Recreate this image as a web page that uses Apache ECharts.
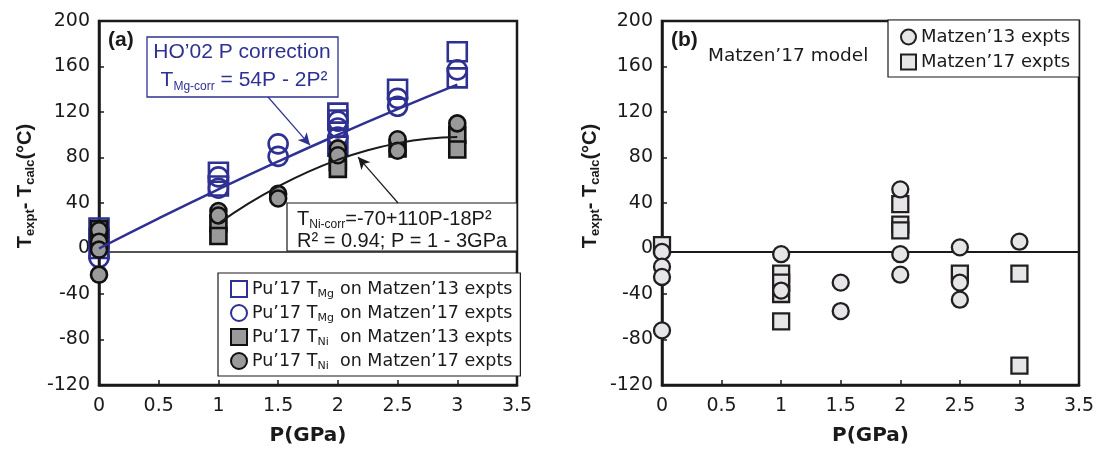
<!DOCTYPE html>
<html><head><meta charset="utf-8">
<script src="https://cdn.jsdelivr.net/npm/echarts@6/dist/echarts.min.js"></script>
<style>html,body{margin:0;padding:0;background:#fff}#c{width:1107px;height:455px}</style>
</head><body><div id="c"></div>
<script>
// ---------- data ----------
// x ticks / y ticks
const xTicks = [0, 0.5, 1, 1.5, 2, 2.5, 3, 3.5];
const yTicks = [-120, -80, -40, 0, 40, 80, 120, 160, 200];

// Panel (a)
const mgM13P = [0, 0, 0, 1, 1, 2, 2, 2, 2.5, 3, 3];
const mgM13T = [18, 9, 0, 67, 55, 119, 113, 90, 140, 173, 150];
const mgM17P = [0, 0, 1, 1, 1.5, 1.5, 2, 2, 2, 2.5, 2.5, 3];
const mgM17T = [2, -8, 63, 53, 92, 81, 112, 106, 98, 132, 125, 157];
const niM13P = [0, 0, 1, 1, 2, 2, 2.5, 3, 3];
const niM13T = [17, 8, 22, 11, 76, 70, 88, 100, 87];
const niM17P = [0, 0, 0, 0, 1, 1, 1.5, 1.5, 2, 2, 2.5, 2.5, 3];
const niM17T = [16, 6, -1, -23, 33, 29, 48, 44, 88, 82, 96, 86, 110];
// fitted curves as drawn
const hoFitP = [0, 0.5, 1, 1.5, 2, 2.5, 3];
const hoFitT = [0, 26.5, 52, 76.5, 100, 122.5, 144];
const niFitP = [1, 1.25, 1.5, 1.75, 2, 2.25, 2.5, 2.75, 3];
const niFitT = [22, 39.4, 54.5, 67.4, 78, 86.4, 92.5, 96.4, 98];

// Panel (b)
const m13P = [0, 0, 0, 0, 1, 1, 1.5, 1.5, 2, 2, 2, 2.5, 2.5, 2.5, 3];
const m13T = [-3, -16, -25, -72, -5, -37, -30, -55, 52, -5, -23, 1, -30, -45, 6];
const m17P = [0, 1, 1, 1, 1, 2, 2, 2, 2.5, 3, 3];
const m17T = [3, -22, -30, -40, -64, 39, 21, 16, -22, -22, -103];

// reference (zero) line level as drawn
const refLine = [-2.6];

// ---------- chart ----------
const pairs = (xs, ys) => xs.map((x, i) => [x, ys[i]]);
const FONT = 'DejaVu Sans';
const SANS = 'Liberation Sans';
const BLUE = '#2e3192';
const INK = '#1a1a1a';

function xAx(gi) {
  return {
    gridIndex: gi, type: 'value', min: xTicks[0], max: xTicks[xTicks.length - 1],
    interval: xTicks[1] - xTicks[0],
    axisLine: { show: true, onZero: false, lineStyle: { color: INK, width: 2.5 } },
    axisTick: { show: true, inside: true, length: 5, lineStyle: { color: INK, width: 1.5 } },
    axisLabel: { fontFamily: FONT, fontSize: 19, color: INK, margin: 12 },
    splitLine: { show: false },
    name: 'P(GPa)', nameLocation: 'middle', nameGap: 41,
    nameTextStyle: { fontFamily: FONT, fontWeight: 'bold', fontSize: 20, color: INK }
  };
}
function yAx(gi) {
  return {
    gridIndex: gi, type: 'value', min: yTicks[0], max: yTicks[yTicks.length - 1],
    interval: yTicks[1] - yTicks[0],
    axisLine: { show: true, onZero: false, lineStyle: { color: INK, width: 2.5 } },
    axisTick: { show: true, inside: true, length: 5, lineStyle: { color: INK, width: 1.5 } },
    axisLabel: { fontFamily: FONT, fontSize: 19, color: INK, margin: 9 },
    splitLine: { show: false }
  };
}

const N_A1 = 'Pu’17 TMg on Matzen’13 expts';
const N_A2 = 'Pu’17 TMg on Matzen’17 expts';
const N_A3 = 'Pu’17 TNi on Matzen’13 expts';
const N_A4 = 'Pu’17 TNi on Matzen’17 expts';
const N_B1 = 'Matzen’13 expts';
const N_B2 = 'Matzen’17 expts';
const legendRich = {};
legendRich[N_A1] = '{t|Pu’17 T}{s|Mg}{t| on Matzen’13 expts}';
legendRich[N_A2] = '{t|Pu’17 T}{s|Mg}{t| on Matzen’17 expts}';
legendRich[N_A3] = '{t|Pu’17 T}{s|Ni}{t| on Matzen’13 expts}';
legendRich[N_A4] = '{t|Pu’17 T}{s|Ni}{t| on Matzen’17 expts}';

const blueSq = { color: 'rgba(255,255,255,0)', borderColor: BLUE, borderWidth: 2.6, opacity: 1 };
const grayMk = { color: '#9a9a9a', borderColor: '#111', borderWidth: 2.6, opacity: 1 };
const lightMk = { color: '#e6e6e8', borderColor: '#231f20', borderWidth: 2.3, opacity: 1 };

function zeroLine(w) {
  return {
    silent: true, symbol: 'none', z: 1, animation: false,
    label: { show: false },
    lineStyle: { color: INK, width: w, type: 'solid' },
    data: [{ yAxis: refLine[0] }]
  };
}

const option = {
  animation: false,
  textStyle: { fontFamily: FONT },
  grid: [
    { left: 99, top: 21, width: 418, height: 364, show: true, borderColor: INK, borderWidth: 2.5, containLabel: false },
    { left: 662, top: 21, width: 417, height: 364, show: true, borderColor: INK, borderWidth: 2.5, containLabel: false }
  ],
  xAxis: [xAx(0), xAx(1)],
  yAxis: [yAx(0), yAx(1)],
  legend: [
    {
      data: [N_A1, N_A2, N_A3, N_A4], orient: 'vertical', left: 218, top: 273,
      padding: [7, 8, 4, 12], itemWidth: 16, itemHeight: 16, itemGap: 4,
      borderColor: INK, borderWidth: 1.2, backgroundColor: '#fff',
      selectedMode: false,
      formatter: n => legendRich[n],
      textStyle: {
        rich: {
          t: { fontFamily: FONT, fontSize: 17.5, color: INK, lineHeight: 22 },
          s: { fontFamily: FONT, fontSize: 11, color: INK, lineHeight: 9, verticalAlign: 'bottom', width: 17 }
        }
      }
    },
    {
      data: [N_B1, N_B2], orient: 'vertical', left: 888, top: 20,
      padding: [6, 9, 4, 12], itemWidth: 15, itemHeight: 15, itemGap: 3,
      borderColor: INK, borderWidth: 1.2, backgroundColor: '#fff',
      selectedMode: false,
      textStyle: { fontFamily: FONT, fontSize: 18, color: INK, lineHeight: 22 }
    }
  ],
  series: [
    { type: 'line', xAxisIndex: 0, yAxisIndex: 0, data: pairs(hoFitP, hoFitT), smooth: true,
      showSymbol: false, symbol: 'none', lineStyle: { color: BLUE, width: 2.5 }, silent: true,
      markLine: {
        silent: true, animation: false, label: { show: false },
        lineStyle: { color: BLUE, width: 1.2, type: 'solid' }, symbolSize: [9, 12],
        data: [[{ coord: [1.415, 133.2], symbol: 'none' }, { coord: [1.767, 90.8], symbol: 'arrow' }]]
      } },
    { type: 'line', xAxisIndex: 0, yAxisIndex: 0, data: pairs(niFitP, niFitT), smooth: true,
      showSymbol: false, symbol: 'none', lineStyle: { color: INK, width: 2 }, silent: true,
      markLine: {
        silent: true, animation: false, label: { show: false },
        lineStyle: { color: INK, width: 1.2, type: 'solid' }, symbolSize: [9, 12],
        data: [[{ coord: [2.504, 40], symbol: 'none' }, { coord: [2.169, 80.4], symbol: 'arrow' }]]
      } },
    { name: N_A1, type: 'scatter', xAxisIndex: 0, yAxisIndex: 0, symbol: 'rect', symbolSize: 19,
      data: pairs(mgM13P, mgM13T), itemStyle: blueSq, markLine: zeroLine(1.5) },
    { name: N_A2, type: 'scatter', xAxisIndex: 0, yAxisIndex: 0, symbol: 'circle', symbolSize: 19,
      data: pairs(mgM17P, mgM17T), itemStyle: blueSq },
    { name: N_A3, type: 'scatter', xAxisIndex: 0, yAxisIndex: 0, symbol: 'rect', symbolSize: 16,
      data: pairs(niM13P, niM13T), itemStyle: grayMk },
    { name: N_A4, type: 'scatter', xAxisIndex: 0, yAxisIndex: 0, symbol: 'circle', symbolSize: 16,
      data: pairs(niM17P, niM17T), itemStyle: grayMk },
    { name: N_B2, type: 'scatter', xAxisIndex: 1, yAxisIndex: 1, symbol: 'rect', symbolSize: 16,
      data: pairs(m17P, m17T), itemStyle: lightMk, markLine: zeroLine(2) },
    { name: N_B1, type: 'scatter', xAxisIndex: 1, yAxisIndex: 1, symbol: 'circle', symbolSize: 16,
      data: pairs(m13P, m13T), itemStyle: lightMk }
  ],
  graphic: [
    // y axis titles
    { type: 'text', x: 25, y: 186, rotation: Math.PI / 2, silent: true,
      style: { text: '{b|T}{s|expt}{b|- T}{s|calc}{b|(°C)}', align: 'center', verticalAlign: 'middle',
        rich: {
          b: { fontFamily: SANS, fontWeight: 'bold', fontSize: 20, fill: INK, lineHeight: 24 },
          s: { fontFamily: SANS, fontWeight: 'bold', fontSize: 13, fill: INK, lineHeight: 10, verticalAlign: 'bottom' }
        } } },
    { type: 'text', x: 590, y: 186, rotation: Math.PI / 2, silent: true,
      style: { text: '{b|T}{s|expt}{b|- T}{s|calc}{b|(°C)}', align: 'center', verticalAlign: 'middle',
        rich: {
          b: { fontFamily: SANS, fontWeight: 'bold', fontSize: 20, fill: INK, lineHeight: 24 },
          s: { fontFamily: SANS, fontWeight: 'bold', fontSize: 13, fill: INK, lineHeight: 10, verticalAlign: 'bottom' }
        } } },
    // panel labels
    { type: 'text', x: 108, y: 40, silent: true,
      style: { text: '(a)', font: 'bold 21px "Liberation Sans"', fill: INK, verticalAlign: 'middle' } },
    { type: 'text', x: 671, y: 40, silent: true,
      style: { text: '(b)', font: 'bold 21px "Liberation Sans"', fill: INK, verticalAlign: 'middle' } },
    { type: 'text', x: 708, y: 56, silent: true,
      style: { text: 'Matzen’17 model', font: '18.5px "DejaVu Sans"', fill: INK, verticalAlign: 'middle' } },
    // HO'02 box
    { type: 'rect', silent: true, shape: { x: 147, y: 37, width: 191, height: 60 },
      style: { fill: '#fff', stroke: BLUE, lineWidth: 1.3 } },
    { type: 'text', x: 242, y: 52, silent: true,
      style: { text: 'HO’02 P correction', font: '21px "Liberation Sans"', fill: BLUE, align: 'center', verticalAlign: 'middle' } },
    { type: 'text', x: 244, y: 80, silent: true,
      style: { text: '{m|T}{s|Mg-corr}{m| = 54P - 2P²}', align: 'center', verticalAlign: 'middle',
        rich: {
          m: { fontFamily: SANS, fontSize: 21, fill: BLUE, lineHeight: 26 },
          s: { fontFamily: SANS, fontSize: 12, fill: BLUE, lineHeight: 10, verticalAlign: 'bottom' }
        } } },
    // Ni fit box
    { type: 'rect', silent: true, shape: { x: 287, y: 203, width: 230, height: 48 },
      style: { fill: '#fff', stroke: INK, lineWidth: 1.2 } },
    { type: 'text', x: 297, y: 219, silent: true,
      style: { text: '{m|T}{s|Ni-corr}{m|=-70+110P-18P²}', verticalAlign: 'middle',
        rich: {
          m: { fontFamily: SANS, fontSize: 20, fill: INK, lineHeight: 24 },
          s: { fontFamily: SANS, fontSize: 12, fill: INK, lineHeight: 10, verticalAlign: 'bottom' }
        } } },
    { type: 'text', x: 297, y: 241, silent: true,
      style: { text: 'R² = 0.94; P = 1 - 3GPa', font: '20px "Liberation Sans"', fill: INK, verticalAlign: 'middle' } }
  ]
};

const chart = echarts.init(document.getElementById('c'), null, { renderer: 'canvas' });
chart.setOption(option);
</script>
</body></html>
